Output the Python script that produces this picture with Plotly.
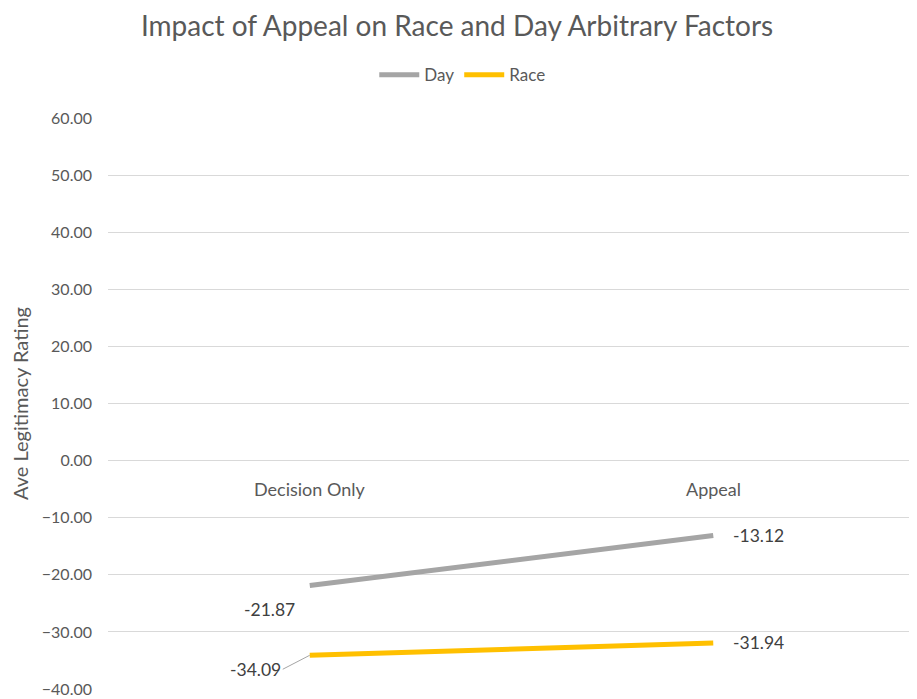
import plotly.graph_objects as go

categories = ["Decision Only", "Appeal"]
day_values = [-21.87, -13.12]
race_values = [-34.09, -31.94]
y_ticks = [60, 50, 40, 30, 20, 10, 0, -10, -20, -30, -40]

font_family = "Lato, Open Sans, sans-serif"
text_color = "#595959"
label_color = "#404040"

fig = go.Figure()
fig.add_trace(go.Scatter(x=categories, y=day_values, mode="lines", name="Day",
                         line=dict(color="#A5A5A5", width=5)))
fig.add_trace(go.Scatter(x=categories, y=race_values, mode="lines", name="Race",
                         line=dict(color="#FFC000", width=5)))

# category labels sit just under the zero line (Excel axis crosses at 0)
for cat in categories:
    fig.add_annotation(x=cat, y=0, xref="x", yref="y", text=cat, showarrow=False,
                       yshift=-28, font=dict(size=18, color=text_color, family=font_family))

# data labels
lbl_font = dict(size=17.5, color=label_color, family=font_family)
fig.add_annotation(x=categories[0], y=day_values[0], text=f"{day_values[0]:.2f}", showarrow=False,
                   xshift=-40, yshift=-24, font=lbl_font)
fig.add_annotation(x=categories[1], y=day_values[1], text=f"{day_values[1]:.2f}", showarrow=False,
                   xanchor="left", xshift=18, font=lbl_font)
fig.add_annotation(x=categories[0], y=race_values[0], text=f"{race_values[0]:.2f}", showarrow=True,
                   arrowhead=0, arrowwidth=1, arrowcolor="#A5A5A5", ax=-27, ay=14,
                   xanchor="right", font=lbl_font)
fig.add_annotation(x=categories[1], y=race_values[1], text=f"{race_values[1]:.2f}", showarrow=False,
                   xanchor="left", xshift=18, font=lbl_font)

# page body has an 8px margin, so the figure is sized to fill the rest of the window
fig.update_layout(
    width=909, height=691,
    margin=dict(l=100, r=2, t=110, b=10),
    paper_bgcolor="white", plot_bgcolor="white",
    font=dict(family=font_family, color=text_color, size=16),
    title=dict(text="Impact of Appeal on Race and Day Arbitrary Factors", x=0.494, xanchor="center",
               y=0.973, yanchor="middle", font=dict(size=28, color=text_color, family=font_family)),
    legend=dict(orientation="h", x=0.439, xanchor="center", y=1.075, yanchor="middle",
                font=dict(size=17, color=text_color), itemwidth=40),
    showlegend=True,
)
fig.update_xaxes(range=[-0.5, 1.5], showticklabels=False, showgrid=False, zeroline=False)
fig.update_yaxes(range=[-40, 60], tickvals=y_ticks, tickformat=".2f", showgrid=True,
                 gridcolor="#D9D9D9", gridwidth=1, zeroline=False, ticks="", ticklen=0,
                 ticklabelstandoff=15,
                 title=dict(text="Ave Legitimacy Rating", standoff=10, font=dict(size=20, color=text_color)),
                 tickfont=dict(size=16, color=text_color))

fig.write_html("out.html")
